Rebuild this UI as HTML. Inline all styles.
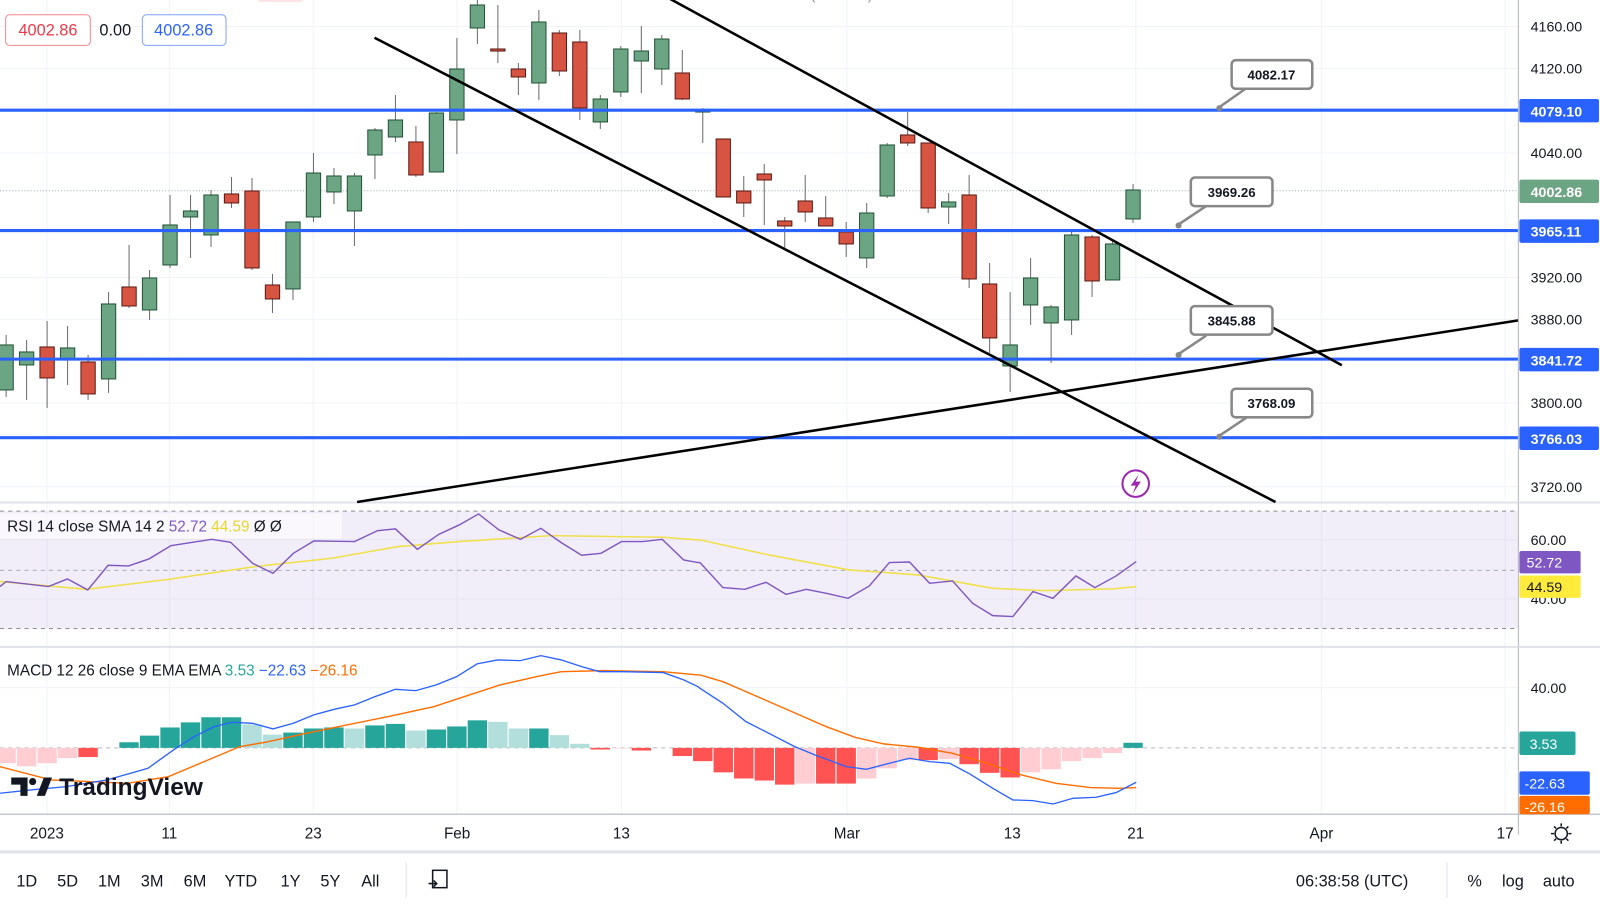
<!DOCTYPE html>
<html><head><meta charset="utf-8"><style>
html,body{margin:0;padding:0;background:#fff;width:1600px;height:905px;overflow:hidden}
svg{display:block}
text{font-family:"Liberation Sans",sans-serif}
</style></head><body>
<svg id="s" width="1600" height="905" viewBox="0 0 1568 887" preserveAspectRatio="none" xmlns="http://www.w3.org/2000/svg">
<rect width="1568" height="887" fill="#fff"/>
<g id="grid" stroke="#f0f3fa" stroke-width="1"></g>
<text x="330" y="-1" font-size="15" fill="#999">S&amp;P 500 · 1D · TVC  O3976.47 H4002.86 L3962.06 C4002.86 +26.39 (+0.66%)</text>
<rect x="250" y="-12" width="50" height="14" rx="7" fill="#fde3e6"/>
<line x1="0" y1="187" x2="1488" y2="187" stroke="#9aa" stroke-width="1" stroke-dasharray="1,2"/>
<rect x="0" y="501" width="1488" height="115" fill="#7e57c2" fill-opacity="0.1"/>
<line x1="0" y1="501" x2="1488" y2="501" stroke="#8a8e99" stroke-dasharray="4,4"/>
<line x1="0" y1="559" x2="1488" y2="559" stroke="#8a8e99" stroke-dasharray="4,4" stroke-opacity="0.7"/>
<line x1="0" y1="616" x2="1488" y2="616" stroke="#8a8e99" stroke-dasharray="4,4"/>
<line x1="0" y1="529" x2="1488" y2="529" stroke="#e4e4ee"/>
<line x1="0" y1="587" x2="1488" y2="587" stroke="#e4e4ee"/>
<line x1="0" y1="674" x2="1488" y2="674" stroke="#f0f3fa"/>
<line x1="0" y1="733" x2="1488" y2="733" stroke="#9598a1" stroke-dasharray="4,4" stroke-opacity="0.7"/>
<line x1="0" y1="492.5" x2="1568" y2="492.5" stroke="#e0e3eb" stroke-width="2"/>
<line x1="0" y1="634" x2="1568" y2="634" stroke="#e0e3eb" stroke-width="2"/>
<g id="cand"></g>
<g stroke="#2962ff" stroke-width="3">
<line x1="0" y1="108" x2="1488" y2="108"/><line x1="0" y1="226" x2="1488" y2="226"/>
<line x1="0" y1="352" x2="1488" y2="352"/><line x1="0" y1="429" x2="1488" y2="429"/>
</g>
<g stroke="#000" stroke-width="2.5">
<line x1="655" y1="-2" x2="1315" y2="358"/>
<line x1="367" y1="37" x2="1250" y2="492"/>
<line x1="350" y1="492" x2="1488" y2="314"/>
</g>
<g font-size="13" font-weight="bold" fill="#131722" font-family="Liberation Mono">
<g stroke="#888" stroke-width="2.5" fill="#fff">
<path d="M1195 105 L1222 86"/><rect x="1207" y="59" width="79" height="28" rx="4"/>
<path d="M1155 220 L1182 202"/><rect x="1167" y="174" width="80" height="28" rx="4"/>
<path d="M1155 347 L1182 329"/><rect x="1167" y="300" width="80" height="28" rx="4"/>
<path d="M1195 427 L1222 409"/><rect x="1207" y="381" width="79" height="28" rx="4"/>
</g>
<text x="1246" y="78" text-anchor="middle" font-family="Liberation Mono">4082.17</text>
<text x="1207" y="193" text-anchor="middle" font-family="Liberation Mono">3969.26</text>
<text x="1207" y="319" text-anchor="middle" font-family="Liberation Mono">3845.88</text>
<text x="1246" y="400" text-anchor="middle" font-family="Liberation Mono">3768.09</text>
</g>
<g fill="#888"><circle cx="1195" cy="106" r="3"/><circle cx="1155" cy="221" r="3"/><circle cx="1155" cy="348" r="3"/><circle cx="1195" cy="428" r="3"/></g>
<circle cx="1113" cy="474" r="13" fill="#fff" stroke="#9c27b0" stroke-width="2"/>
<path d="M1116 465 L1108 476 L1113 476 L1110 484 L1118 472 L1113 472 Z" fill="#9c27b0"/>
<rect x="5.5" y="14.5" width="83" height="30" rx="4" fill="#fff" stroke="#f23645" stroke-opacity="0.6"/>
<text x="47" y="35" font-size="16" fill="#f23645" text-anchor="middle">4002.86</text>
<text x="113" y="35" font-size="16" fill="#131722" text-anchor="middle">0.00</text>
<rect x="139.5" y="14.5" width="82" height="30" rx="4" fill="#fff" stroke="#2962ff" stroke-opacity="0.6"/>
<text x="180" y="35" font-size="16" fill="#2962ff" text-anchor="middle">4002.86</text>
<rect x="0" y="503" width="335" height="25" fill="#fff" fill-opacity="0.6"/>
<text x="7" y="521" font-size="15" fill="#131722">RSI 14 close SMA 14 2 <tspan fill="#7e57c2">  52.72</tspan><tspan fill="#e8d62a">  44.59</tspan>  Ø  Ø</text>
<text x="7" y="662" font-size="15" fill="#131722">MACD 12 26 close 9 EMA EMA <tspan fill="#26a69a">  3.53</tspan><tspan fill="#2962ff">  −22.63</tspan><tspan fill="#ff6d00">  −26.16</tspan></text>
<g id="ind"></g>
<g>
<path d="M11 762 h16 v18 h-7 v-11 h-9z" fill="#131722"/><circle cx="32" cy="766" r="3.5" fill="#131722"/>
<path d="M36 780 l7 -18 h8 l-7 18z" fill="#131722"/>
<text x="58" y="779" font-size="24" font-weight="bold" fill="#131722">TradingView</text>
</g>
<rect x="1488" y="0" width="80" height="887" fill="#fff"/>
<line x1="1488" y1="0" x2="1488" y2="818" stroke="#b2b5be" stroke-width="1"/>
<line x1="0" y1="798" x2="1568" y2="798" stroke="#b2b5be" stroke-width="1"/>
<line x1="1488" y1="492.5" x2="1568" y2="492.5" stroke="#e0e3eb" stroke-width="2"/>
<line x1="1488" y1="634" x2="1568" y2="634" stroke="#e0e3eb" stroke-width="2"/>
<g font-size="14" fill="#131722" text-anchor="start">
<text x="1500" y="31">4160.00</text><text x="1500" y="72">4120.00</text><text x="1500" y="155">4040.00</text>
<text x="1500" y="277">3920.00</text><text x="1500" y="318">3880.00</text><text x="1500" y="400">3800.00</text>
<text x="1500" y="482">3720.00</text><text x="1500" y="534">60.00</text><text x="1500" y="592">40.00</text>
<text x="1500" y="679">40.00</text>
</g>
<g font-size="14" font-weight="bold" fill="#fff">
<rect x="1489" y="97" width="78" height="23" rx="2" fill="#2962ff"/><text x="1500" y="114">4079.10</text>
<rect x="1489" y="176" width="78" height="23" rx="2" fill="#6ba583"/><text x="1500" y="193">4002.86</text>
<rect x="1489" y="215" width="78" height="23" rx="2" fill="#2962ff"/><text x="1500" y="232">3965.11</text>
<rect x="1489" y="341" width="78" height="23" rx="2" fill="#2962ff"/><text x="1500" y="358">3841.72</text>
<rect x="1489" y="418" width="78" height="23" rx="2" fill="#2962ff"/><text x="1500" y="435">3766.03</text>
<rect x="1489" y="540" width="60" height="22" rx="2" fill="#7e57c2"/><text x="1496" y="556" font-weight="normal">52.72</text>
<rect x="1489" y="564" width="60" height="22" rx="2" fill="#ffeb3b"/><text x="1496" y="580" fill="#131722" font-weight="normal">44.59</text>
<rect x="1489" y="717" width="55" height="23" rx="2" fill="#26a69a"/><text x="1499" y="734" font-weight="normal">3.53</text>
<rect x="1489" y="756" width="69" height="23" rx="2" fill="#2962ff"/><text x="1494" y="773" font-weight="normal">-22.63</text>
<rect x="1489" y="780" width="69" height="18" rx="2" fill="#ff6d00"/><text x="1494" y="796" font-weight="normal">-26.16</text>
</g>
<g font-size="15" fill="#131722" text-anchor="middle">
<text x="46" y="822">2023</text><text x="166" y="822">11</text><text x="307" y="822">23</text>
<text x="448" y="822">Feb</text><text x="609" y="822">13</text><text x="830" y="822">Mar</text>
<text x="992" y="822">13</text><text x="1113" y="822">21</text><text x="1295" y="822">Apr</text><text x="1475" y="822">17</text>
</g>
<g stroke="#131722" stroke-width="1.5" fill="none"><circle cx="1530" cy="817" r="6"/>
<path d="M1530 807v3M1530 824v3M1520 817h3M1537 817h3M1523 810l2 2M1535 822l2 2M1537 810l-2 2M1523 824l2-2"/></g>
<line x1="0" y1="835" x2="1568" y2="835" stroke="#e0e3eb" stroke-width="3"/>
<g font-size="16" fill="#131722">
<text x="16" y="869">1D</text><text x="56" y="869">5D</text><text x="96" y="869">1M</text><text x="138" y="869">3M</text>
<text x="180" y="869">6M</text><text x="220" y="869">YTD</text><text x="275" y="869">1Y</text><text x="314" y="869">5Y</text>
<text x="354" y="869">All</text>
<text x="1270" y="869">06:38:58 (UTC)</text><text x="1438" y="869">%</text><text x="1472" y="869">log</text><text x="1512" y="869">auto</text>
</g>
<line x1="398" y1="845" x2="398" y2="880" stroke="#e0e3eb"/>
<line x1="1418" y1="845" x2="1418" y2="880" stroke="#e0e3eb"/>
<g stroke="#131722" stroke-width="1.5" fill="none"><rect x="424" y="853" width="14" height="17"/><path d="M420 866h8M425 863l3 3-3 3"/></g>
</svg>
<script>
const NS="http://www.w3.org/2000/svg";
function el(p,t,a){const e=document.createElementNS(NS,t);for(const k in a)e.setAttribute(k,a[k]);p.appendChild(e);return e;}
const grid=document.getElementById('grid');
[26,67,150,272,313,395,477].forEach(y=>el(grid,'line',{x1:0,y1:y,x2:1488,y2:y}));
[46,166,307,448,609,830,992,1113,1295,1475].forEach(x=>el(grid,'line',{x1:x,y1:0,x2:x,y2:798}));
const C=[['g',345,390,335,397],['g',352,365,340,400],['r',347,378,321,408],['g',348,360,326,385],['r',362,394,355,400],
['g',304,379,292,393],['r',287,306,245,308],['g',278,310,270,320],['g',225,265,195,268],['g',211,217,195,258],
['g',195,235,190,247],['r',194,203,177,208],['r',191,268,178,270],['r',285,299,274,313],['g',222,289,222,300],
['g',173,217,153,222],['g',176,192,168,204],['g',176,211,173,246],['g',130,155,128,179],['g',120,137,95,142],
['r',142,175,126,177],['g',113,172,112,172],['g',69,120,38,154],['g',5,28,0,44],['r',49,51,5,63],
['r',69,77,63,95],['g',22,83,10,100],['r',33,71,30,76],['r',42,108,30,120],['g',99,122,95,129],
['g',49,92,46,97],['g',51,61,26,93],['g',39,69,35,85],['r',73,99,50,100],['g',110,112,108,143],
['r',139,197,139,197],['r',191,203,176,217],['r',174,180,164,225],['r',221,226,217,248],['r',201,212,175,222],
['r',218,226,196,226],['r',232,244,222,257],['g',213,258,203,268],['g',145,196,143,198],['r',135,143,112,146],
['r',143,208,143,213],['g',202,207,193,224],['r',195,279,175,288],['r',284,338,263,353],['g',345,366,292,392],
['g',278,305,258,325],['g',307,323,305,363],['g',235,320,232,335],['r',237,281,235,297],['g',244,280,240,280],['g',190,219,184,223]];
const cg=document.getElementById('cand');
C.forEach((c,k)=>{const x=6+20.08*k,f=0.98;
 el(cg,'line',{x1:x,y1:c[3]*f,x2:x,y2:c[4]*f,stroke:'#6b6b6b','stroke-width':1});
 el(cg,'rect',{x:x-7,y:c[1]*f,width:14,height:Math.max(2,(c[2]-c[1])*f),fill:c[0]=='g'?'#6ba583':'#d75442',stroke:c[0]=='g'?'#225437':'#5b1a13','stroke-width':1});
});
const ind=document.getElementById('ind');
const H={0:-15,1:-18,2:-15,3:-10,4:-9,5:0,6:5.5,7:12,8:20,9:25,10:30,11:30,12:23,13:13,14:15,15:19,16:20,17:19,18:22,19:23.5,20:17,21:18,22:21,23:27,24:25.5,25:19,26:19,27:12.5,28:4,29:-1.6,30:-0.5,31:-2.6,32:0,33:-8,34:-13,35:-24,36:-30,37:-32,38:-36,39:-35,40:-35,41:-35,42:-30,43:-20,44:-12,45:-12,46:-11,47:-16,48:-24.5,49:-29,50:-24,51:-21,52:-13,53:-10,54:-5,55:5};
const z=733;
for(let k=0;k<=55;k++){const v=H[k];if(!v)continue;const p=H[k-1]||0;let col;
 if(v>0)col=v>=p?'#26a69a':'#b2dfdb';else col=v<=p?'#ff5252':'#ffcdd2';
 if(k<=3)col='#ffcdd2';if(k==4)col='#ff5252';
 const x=6+20.08*k-9.5;
 el(ind,'rect',{x:x,y:v>0?z-v:z,width:19,height:Math.abs(v),fill:col});}
function P3(a){return a.map(p=>(p[0]/2).toFixed(1)+','+(p[1]*0.3267+480.2).toFixed(1));}
function P4(a){return a.map(p=>(686+p[0]*0.5625).toFixed(1)+','+(p[1]*0.3267+480.2).toFixed(1));}
function line(pts,col,w){el(ind,'polyline',{points:pts.join(' '),fill:'none',stroke:col,'stroke-width':w||1.3});}
const rsi3=[[0,290],[12,275],[95,290],[132,267],[172,300],[212,226],[252,228],[292,207],[335,167],[415,148],[452,157],[495,220],[535,250],[575,190],[615,153],[695,155],[740,122],[775,117],[818,178],[860,133],[900,105],[938,72],[978,120],[1020,148],[1060,115],[1100,158],[1140,196],[1178,190],[1218,155],[1260,155],[1298,148],[1340,210],[1368,218]];
const rsi4=[[0,218],[40,293],[78,298],[115,277],[150,313],[185,298],[220,310],[258,325],[295,288],[330,218],[365,216],[400,280],[440,273],[475,340],[510,377],[545,380],[580,305],[615,325],[655,258],[688,293],[725,258],[760,215]];
const sma3=[[0,275],[170,298],[330,268],[500,230],[650,205],[780,170],[900,155],[1080,137],[1300,142],[1368,150]];
const sma4=[[0,150],[120,195],[260,240],[380,255],[510,295],[600,302],[720,297],[760,290]];
line(P3(sma3).concat(P4(sma4)),'#f0e04a',1.5);
line(P3(rsi3).concat(P4(rsi4)),'#7e57c2',1.4);
const b3=[[0,910],[60,900],[130,890],[210,870],[290,835],[340,780],[380,740],[420,710],[455,697],[495,700],[535,717],[575,700],[615,675],[655,658],[695,645],[735,620],[775,598],[815,602],[855,585],[895,560],[935,522],[975,510],[1020,512],[1060,497],[1100,510],[1140,530],[1175,545],[1220,545],[1300,548],[1340,570],[1368,590]];
const b4=[[0,595],[40,640],[80,695],[120,730],[165,770],[200,795],[255,830],[290,838],[330,820],[365,805],[400,815],[435,820],[470,852],[510,895],[545,930],[580,932],[615,942],[650,925],[690,922],[725,908],[760,877]];
const o3=[[0,830],[100,870],[250,880],[330,860],[400,815],[470,770],[520,757],[600,730],[680,705],[760,680],[850,650],[900,625],[980,585],[1060,557],[1100,545],[1180,542],[1300,545],[1368,555]];
const o4=[[0,555],[40,575],[100,620],[160,665],[220,710],[270,742],[320,762],[380,772],[440,790],[500,820],[560,855],[620,880],[680,893],[730,895],[760,893]];
line(P3(o3).concat(P4(o4)),'#ff6d00',1.4);
line(P3(b3).concat(P4(b4)),'#2962ff',1.3);
</script>
</body></html>
